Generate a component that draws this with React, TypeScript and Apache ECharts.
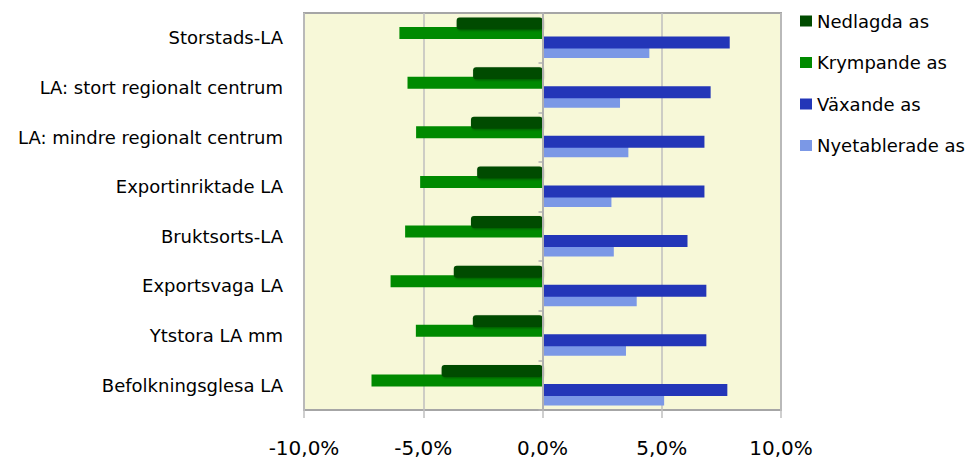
import React, { useEffect, useRef } from "react";
import * as echarts from "echarts";

const categories = [
  "Storstads-LA",
  "LA: stort regionalt centrum",
  "LA: mindre regionalt centrum",
  "Exportinriktade LA",
  "Bruktsorts-LA",
  "Exportsvaga LA",
  "Ytstora LA mm",
  "Befolkningsglesa LA",
];

const nedlagda = [-3.6, -2.91, -3.0, -2.74, -3.0, -3.72, -2.92, -4.23];
const krympande = [-6.0, -5.66, -5.3, -5.13, -5.76, -6.37, -5.31, -7.17];
const vaxande = [7.85, 7.05, 6.79, 6.79, 6.08, 6.87, 6.87, 7.75];
const nyetablerade = [4.48, 3.25, 3.6, 2.89, 2.99, 3.95, 3.5, 5.1];

const seriesNames = ["Nedlagda as", "Krympande as", "Växande as", "Nyetablerade as"];
const seriesColors = ["#004b00", "#008a00", "#2336b8", "#7b98e6"];

const FONT = "DejaVu Sans";

export default function App() {
  const ref = useRef<HTMLDivElement>(null);
  useEffect(() => {
    if (!ref.current) return;
    const chart = echarts.init(ref.current, null, { renderer: "svg" });
    const dataSets = [nedlagda, krympande, vaxande, nyetablerade];
    const zs = [4, 2, 4, 2];
    chart.setOption({
      animation: false,
      backgroundColor: "#ffffff",
      grid: {
        left: 304,
        right: 187,
        top: 13,
        bottom: 49,
        show: true,
        backgroundColor: "#f7f8d8",
        borderColor: "#a6a6a6",
        borderWidth: 2,
      },
      legend: {
        orient: "vertical",
        left: 795,
        top: 6,
        itemWidth: 12,
        itemHeight: 11,
        itemGap: 21.5,
        icon: "rect",
        textStyle: { fontFamily: FONT, fontSize: 18, color: "#000", lineHeight: 20 },
        data: seriesNames,
      },
      xAxis: {
        type: "value",
        min: -10,
        max: 10,
        interval: 5,
        axisLine: { show: false },
        axisTick: { show: true, length: 8, lineStyle: { color: "#bfbfbf", width: 1.5 } },
        splitLine: { show: true, lineStyle: { color: "#bfbfbf", width: 1.5 } },
        axisLabel: {
          fontFamily: FONT,
          fontSize: 20,
          color: "#000",
          margin: 28,
          formatter: (v: number) => v.toFixed(1).replace(".", ",") + "%",
        },
      },
      yAxis: [
        {
          type: "category",
          data: categories,
          inverse: true,
          axisLine: { show: false, onZero: false },
          axisTick: { show: false },
          axisLabel: { fontFamily: FONT, fontSize: 18, color: "#000", margin: 21 },
        },
        {
          type: "category",
          data: categories,
          inverse: true,
          position: "left",
          axisLine: { show: true, onZero: true, lineStyle: { color: "#b0b0b0", width: 2 } },
          axisTick: { show: true, length: 4, lineStyle: { color: "#b0b0b0", width: 1.5 } },
          axisLabel: { show: false },
          splitLine: { show: false },
          z: 5,
        },
      ],
      series: dataSets.map((d, i) => ({
        name: seriesNames[i],
        type: "bar",
        yAxisIndex: 0,
        data: d,
        barWidth: 12,
        barGap: "-21%",
        z: zs[i],
        itemStyle: {
          color: seriesColors[i],
          borderRadius: i === 0 ? 3 : 0,
          shadowColor: i === 0 ? "rgba(0,0,0,0.35)" : "rgba(0,0,0,0)",
          shadowBlur: i === 0 ? 2 : 0,
          shadowOffsetX: i === 0 ? 1 : 0,
          shadowOffsetY: i === 0 ? 1 : 0,
        },
      })),
    });
    return () => chart.dispose();
  }, []);
  return (
    <div
      ref={ref}
      style={{ position: "absolute", left: 0, top: 0, width: 968, height: 459 }}
    />
  );
}
